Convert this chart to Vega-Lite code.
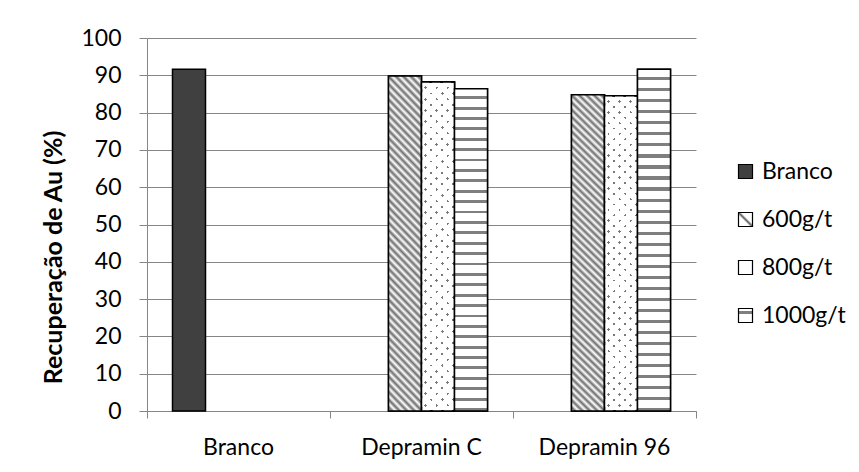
{
  "$schema": "https://vega.github.io/schema/vega-lite/v6.json",
  "width": 549,
  "height": 373,
  "autosize": {"type": "none"},
  "padding": {"left": 147, "top": 38, "right": 163, "bottom": 61},
  "background": "#ffffff",
  "config": {"view": {"stroke": null}, "font": "Lato"},
  "data": {
    "values": [
      {"category": "Branco", "series": "Branco", "value": 91.6},
      {"category": "Depramin C", "series": "600g/t", "value": 89.8},
      {"category": "Depramin C", "series": "800g/t", "value": 88.2},
      {"category": "Depramin C", "series": "1000g/t", "value": 86.4},
      {"category": "Depramin 96", "series": "600g/t", "value": 84.8},
      {"category": "Depramin 96", "series": "800g/t", "value": 84.5},
      {"category": "Depramin 96", "series": "1000g/t", "value": 91.6}
    ]
  },
  "encoding": {
    "x": {
      "field": "category", "type": "nominal",
      "sort": ["Branco", "Depramin C", "Depramin 96"],
      "scale": {"paddingInner": 0, "paddingOuter": 0},
      "axis": {
        "title": null, "labelAngle": 0, "bandPosition": 1, "tickExtra": true,
        "domainColor": "#868686", "domainWidth": 1, "tickColor": "#868686", "tickWidth": 1, "tickSize": 7,
        "labelFont": "Lato", "labelFontSize": 23, "labelColor": "#000000", "labelPadding": 18, "grid": false
      }
    },
    "xOffset": {
      "field": "series", "type": "nominal",
      "scale": {"domain": ["Branco", "600g/t", "800g/t", "1000g/t"], "paddingInner": 0, "paddingOuter": 0.7727}
    },
    "y": {
      "field": "value", "type": "quantitative", "stack": null,
      "scale": {"domain": [0, 100]},
      "axis": {
        "values": [0, 10, 20, 30, 40, 50, 60, 70, 80, 90, 100],
        "grid": true, "gridColor": "#868686", "gridWidth": 1,
        "domainColor": "#868686", "domainWidth": 1, "tickColor": "#868686", "tickWidth": 1, "tickSize": 8,
        "labelFont": "Lato", "labelFontSize": 23, "labelColor": "#000000", "labelPadding": 18,
        "title": "Recuperação de Au (%)", "titleFont": "Lato", "titleFontSize": 25, "titleFontWeight": "bold",
        "titleColor": "#000000", "titlePadding": 14, "titleY": 219
      }
    }
  },
  "layer": [
    {
      "mark": {"type": "bar", "stroke": "#000000", "strokeWidth": 1.5},
      "encoding": {
        "color": {
          "field": "series", "type": "nominal",
          "scale": {
            "domain": ["Branco", "600g/t", "800g/t", "1000g/t"],
            "range": [
              "#404040",
              {"expr": "{gradient: 'linear', x1: 0, y1: 1, x2: 1, y2: 0, stops: [{offset: 0, color: '#ffffff'}, {offset: 0.4, color: '#ffffff'}, {offset: 0.5, color: '#606060'}, {offset: 0.6, color: '#ffffff'}, {offset: 1, color: '#ffffff'}]}"},
              "#ffffff",
              {"expr": "{gradient: 'linear', x1: 0, y1: 0, x2: 0, y2: 1, stops: [{offset: 0, color: '#ffffff'}, {offset: 0.18, color: '#ffffff'}, {offset: 0.18, color: '#7f7f7f'}, {offset: 0.38, color: '#7f7f7f'}, {offset: 0.38, color: '#ffffff'}, {offset: 1, color: '#ffffff'}]}"}
            ]
          },
          "legend": {
            "title": null, "orient": "none", "legendX": 587, "legendY": 122, "padding": 0,
            "symbolType": "square", "symbolSize": 196, "symbolStrokeColor": "#000000", "symbolStrokeWidth": 1.2,
            "labelFont": "Lato", "labelFontSize": 23, "labelColor": "#000000", "labelOffset": 5, "rowPadding": 24
          }
        }
      }
    },
    {
      "transform": [{"filter": "datum.series === '600g/t'"}],
      "mark": {
        "type": "bar", "stroke": "#000000", "strokeWidth": 1.5,
        "fill": {
          "gradient": "linear", "x1": 0, "y1": 1, "x2": 0.111, "y2": -0.091,
          "stops": [
            {"offset": 0, "color": "#ffffff"}, {"offset": 0.0104, "color": "#6e6e6e"}, {"offset": 0.0208, "color": "#ffffff"}, {"offset": 0.0313, "color": "#6e6e6e"},
            {"offset": 0.0417, "color": "#ffffff"}, {"offset": 0.0521, "color": "#6e6e6e"}, {"offset": 0.0625, "color": "#ffffff"}, {"offset": 0.0729, "color": "#6e6e6e"},
            {"offset": 0.0833, "color": "#ffffff"}, {"offset": 0.0938, "color": "#6e6e6e"}, {"offset": 0.1042, "color": "#ffffff"}, {"offset": 0.1146, "color": "#6e6e6e"},
            {"offset": 0.125, "color": "#ffffff"}, {"offset": 0.1354, "color": "#6e6e6e"}, {"offset": 0.1458, "color": "#ffffff"}, {"offset": 0.1563, "color": "#6e6e6e"},
            {"offset": 0.1667, "color": "#ffffff"}, {"offset": 0.1771, "color": "#6e6e6e"}, {"offset": 0.1875, "color": "#ffffff"}, {"offset": 0.1979, "color": "#6e6e6e"},
            {"offset": 0.2083, "color": "#ffffff"}, {"offset": 0.2188, "color": "#6e6e6e"}, {"offset": 0.2292, "color": "#ffffff"}, {"offset": 0.2396, "color": "#6e6e6e"},
            {"offset": 0.25, "color": "#ffffff"}, {"offset": 0.2604, "color": "#6e6e6e"}, {"offset": 0.2708, "color": "#ffffff"}, {"offset": 0.2813, "color": "#6e6e6e"},
            {"offset": 0.2917, "color": "#ffffff"}, {"offset": 0.3021, "color": "#6e6e6e"}, {"offset": 0.3125, "color": "#ffffff"}, {"offset": 0.3229, "color": "#6e6e6e"},
            {"offset": 0.3333, "color": "#ffffff"}, {"offset": 0.3438, "color": "#6e6e6e"}, {"offset": 0.3542, "color": "#ffffff"}, {"offset": 0.3646, "color": "#6e6e6e"},
            {"offset": 0.375, "color": "#ffffff"}, {"offset": 0.3854, "color": "#6e6e6e"}, {"offset": 0.3958, "color": "#ffffff"}, {"offset": 0.4063, "color": "#6e6e6e"},
            {"offset": 0.4167, "color": "#ffffff"}, {"offset": 0.4271, "color": "#6e6e6e"}, {"offset": 0.4375, "color": "#ffffff"}, {"offset": 0.4479, "color": "#6e6e6e"},
            {"offset": 0.4583, "color": "#ffffff"}, {"offset": 0.4688, "color": "#6e6e6e"}, {"offset": 0.4792, "color": "#ffffff"}, {"offset": 0.4896, "color": "#6e6e6e"},
            {"offset": 0.5, "color": "#ffffff"}, {"offset": 0.5104, "color": "#6e6e6e"}, {"offset": 0.5208, "color": "#ffffff"}, {"offset": 0.5313, "color": "#6e6e6e"},
            {"offset": 0.5417, "color": "#ffffff"}, {"offset": 0.5521, "color": "#6e6e6e"}, {"offset": 0.5625, "color": "#ffffff"}, {"offset": 0.5729, "color": "#6e6e6e"},
            {"offset": 0.5833, "color": "#ffffff"}, {"offset": 0.5938, "color": "#6e6e6e"}, {"offset": 0.6042, "color": "#ffffff"}, {"offset": 0.6146, "color": "#6e6e6e"},
            {"offset": 0.625, "color": "#ffffff"}, {"offset": 0.6354, "color": "#6e6e6e"}, {"offset": 0.6458, "color": "#ffffff"}, {"offset": 0.6563, "color": "#6e6e6e"},
            {"offset": 0.6667, "color": "#ffffff"}, {"offset": 0.6771, "color": "#6e6e6e"}, {"offset": 0.6875, "color": "#ffffff"}, {"offset": 0.6979, "color": "#6e6e6e"},
            {"offset": 0.7083, "color": "#ffffff"}, {"offset": 0.7188, "color": "#6e6e6e"}, {"offset": 0.7292, "color": "#ffffff"}, {"offset": 0.7396, "color": "#6e6e6e"},
            {"offset": 0.75, "color": "#ffffff"}, {"offset": 0.7604, "color": "#6e6e6e"}, {"offset": 0.7708, "color": "#ffffff"}, {"offset": 0.7813, "color": "#6e6e6e"},
            {"offset": 0.7917, "color": "#ffffff"}, {"offset": 0.8021, "color": "#6e6e6e"}, {"offset": 0.8125, "color": "#ffffff"}, {"offset": 0.8229, "color": "#6e6e6e"},
            {"offset": 0.8333, "color": "#ffffff"}, {"offset": 0.8438, "color": "#6e6e6e"}, {"offset": 0.8542, "color": "#ffffff"}, {"offset": 0.8646, "color": "#6e6e6e"},
            {"offset": 0.875, "color": "#ffffff"}, {"offset": 0.8854, "color": "#6e6e6e"}, {"offset": 0.8958, "color": "#ffffff"}, {"offset": 0.9063, "color": "#6e6e6e"},
            {"offset": 0.9167, "color": "#ffffff"}, {"offset": 0.9271, "color": "#6e6e6e"}, {"offset": 0.9375, "color": "#ffffff"}, {"offset": 0.9479, "color": "#6e6e6e"},
            {"offset": 0.9583, "color": "#ffffff"}, {"offset": 0.9688, "color": "#6e6e6e"}, {"offset": 0.9792, "color": "#ffffff"}, {"offset": 0.9896, "color": "#6e6e6e"},
            {"offset": 1, "color": "#ffffff"}
          ]
        }
      }
    },
    {
      "transform": [{"filter": "datum.series === '800g/t'"}],
      "mark": {
        "type": "bar", "stroke": "#000000", "strokeWidth": 1.5,
        "fill": {
          "gradient": "linear", "x1": 0, "y1": 1, "x2": 0.112, "y2": -0.091,
          "stops": [
            {"offset": 0, "color": "#ffffff"}, {"offset": 0.0234, "color": "#ffffff"}, {"offset": 0.0234, "color": "#7a7a7a"}, {"offset": 0.0313, "color": "#7a7a7a"},
            {"offset": 0.0313, "color": "#ffffff"}, {"offset": 0.0547, "color": "#ffffff"}, {"offset": 0.0547, "color": "#7a7a7a"}, {"offset": 0.0625, "color": "#7a7a7a"},
            {"offset": 0.0625, "color": "#ffffff"}, {"offset": 0.0859, "color": "#ffffff"}, {"offset": 0.0859, "color": "#7a7a7a"}, {"offset": 0.0938, "color": "#7a7a7a"},
            {"offset": 0.0938, "color": "#ffffff"}, {"offset": 0.1172, "color": "#ffffff"}, {"offset": 0.1172, "color": "#7a7a7a"}, {"offset": 0.125, "color": "#7a7a7a"},
            {"offset": 0.125, "color": "#ffffff"}, {"offset": 0.1484, "color": "#ffffff"}, {"offset": 0.1484, "color": "#7a7a7a"}, {"offset": 0.1563, "color": "#7a7a7a"},
            {"offset": 0.1563, "color": "#ffffff"}, {"offset": 0.1797, "color": "#ffffff"}, {"offset": 0.1797, "color": "#7a7a7a"}, {"offset": 0.1875, "color": "#7a7a7a"},
            {"offset": 0.1875, "color": "#ffffff"}, {"offset": 0.2109, "color": "#ffffff"}, {"offset": 0.2109, "color": "#7a7a7a"}, {"offset": 0.2188, "color": "#7a7a7a"},
            {"offset": 0.2188, "color": "#ffffff"}, {"offset": 0.2422, "color": "#ffffff"}, {"offset": 0.2422, "color": "#7a7a7a"}, {"offset": 0.25, "color": "#7a7a7a"},
            {"offset": 0.25, "color": "#ffffff"}, {"offset": 0.2734, "color": "#ffffff"}, {"offset": 0.2734, "color": "#7a7a7a"}, {"offset": 0.2813, "color": "#7a7a7a"},
            {"offset": 0.2813, "color": "#ffffff"}, {"offset": 0.3047, "color": "#ffffff"}, {"offset": 0.3047, "color": "#7a7a7a"}, {"offset": 0.3125, "color": "#7a7a7a"},
            {"offset": 0.3125, "color": "#ffffff"}, {"offset": 0.3359, "color": "#ffffff"}, {"offset": 0.3359, "color": "#7a7a7a"}, {"offset": 0.3438, "color": "#7a7a7a"},
            {"offset": 0.3438, "color": "#ffffff"}, {"offset": 0.3672, "color": "#ffffff"}, {"offset": 0.3672, "color": "#7a7a7a"}, {"offset": 0.375, "color": "#7a7a7a"},
            {"offset": 0.375, "color": "#ffffff"}, {"offset": 0.3984, "color": "#ffffff"}, {"offset": 0.3984, "color": "#7a7a7a"}, {"offset": 0.4063, "color": "#7a7a7a"},
            {"offset": 0.4063, "color": "#ffffff"}, {"offset": 0.4297, "color": "#ffffff"}, {"offset": 0.4297, "color": "#7a7a7a"}, {"offset": 0.4375, "color": "#7a7a7a"},
            {"offset": 0.4375, "color": "#ffffff"}, {"offset": 0.4609, "color": "#ffffff"}, {"offset": 0.4609, "color": "#7a7a7a"}, {"offset": 0.4688, "color": "#7a7a7a"},
            {"offset": 0.4688, "color": "#ffffff"}, {"offset": 0.4922, "color": "#ffffff"}, {"offset": 0.4922, "color": "#7a7a7a"}, {"offset": 0.5, "color": "#7a7a7a"},
            {"offset": 0.5, "color": "#ffffff"}, {"offset": 0.5234, "color": "#ffffff"}, {"offset": 0.5234, "color": "#7a7a7a"}, {"offset": 0.5313, "color": "#7a7a7a"},
            {"offset": 0.5313, "color": "#ffffff"}, {"offset": 0.5547, "color": "#ffffff"}, {"offset": 0.5547, "color": "#7a7a7a"}, {"offset": 0.5625, "color": "#7a7a7a"},
            {"offset": 0.5625, "color": "#ffffff"}, {"offset": 0.5859, "color": "#ffffff"}, {"offset": 0.5859, "color": "#7a7a7a"}, {"offset": 0.5938, "color": "#7a7a7a"},
            {"offset": 0.5938, "color": "#ffffff"}, {"offset": 0.6172, "color": "#ffffff"}, {"offset": 0.6172, "color": "#7a7a7a"}, {"offset": 0.625, "color": "#7a7a7a"},
            {"offset": 0.625, "color": "#ffffff"}, {"offset": 0.6484, "color": "#ffffff"}, {"offset": 0.6484, "color": "#7a7a7a"}, {"offset": 0.6563, "color": "#7a7a7a"},
            {"offset": 0.6563, "color": "#ffffff"}, {"offset": 0.6797, "color": "#ffffff"}, {"offset": 0.6797, "color": "#7a7a7a"}, {"offset": 0.6875, "color": "#7a7a7a"},
            {"offset": 0.6875, "color": "#ffffff"}, {"offset": 0.7109, "color": "#ffffff"}, {"offset": 0.7109, "color": "#7a7a7a"}, {"offset": 0.7188, "color": "#7a7a7a"},
            {"offset": 0.7188, "color": "#ffffff"}, {"offset": 0.7422, "color": "#ffffff"}, {"offset": 0.7422, "color": "#7a7a7a"}, {"offset": 0.75, "color": "#7a7a7a"},
            {"offset": 0.75, "color": "#ffffff"}, {"offset": 0.7734, "color": "#ffffff"}, {"offset": 0.7734, "color": "#7a7a7a"}, {"offset": 0.7813, "color": "#7a7a7a"},
            {"offset": 0.7813, "color": "#ffffff"}, {"offset": 0.8047, "color": "#ffffff"}, {"offset": 0.8047, "color": "#7a7a7a"}, {"offset": 0.8125, "color": "#7a7a7a"},
            {"offset": 0.8125, "color": "#ffffff"}, {"offset": 0.8359, "color": "#ffffff"}, {"offset": 0.8359, "color": "#7a7a7a"}, {"offset": 0.8438, "color": "#7a7a7a"},
            {"offset": 0.8438, "color": "#ffffff"}, {"offset": 0.8672, "color": "#ffffff"}, {"offset": 0.8672, "color": "#7a7a7a"}, {"offset": 0.875, "color": "#7a7a7a"},
            {"offset": 0.875, "color": "#ffffff"}, {"offset": 0.8984, "color": "#ffffff"}, {"offset": 0.8984, "color": "#7a7a7a"}, {"offset": 0.9063, "color": "#7a7a7a"},
            {"offset": 0.9063, "color": "#ffffff"}, {"offset": 0.9297, "color": "#ffffff"}, {"offset": 0.9297, "color": "#7a7a7a"}, {"offset": 0.9375, "color": "#7a7a7a"},
            {"offset": 0.9375, "color": "#ffffff"}, {"offset": 0.9609, "color": "#ffffff"}, {"offset": 0.9609, "color": "#7a7a7a"}, {"offset": 0.9688, "color": "#7a7a7a"},
            {"offset": 0.9688, "color": "#ffffff"}, {"offset": 0.9922, "color": "#ffffff"}, {"offset": 0.9922, "color": "#7a7a7a"}, {"offset": 1, "color": "#7a7a7a"}
          ]
        }
      }
    },
    {
      "transform": [{"filter": "datum.series === '800g/t'"}],
      "mark": {
        "type": "bar", "stroke": "#000000", "strokeWidth": 1.5,
        "fill": {
          "gradient": "linear", "x1": 0, "y1": 0, "x2": 0.112, "y2": 1.091,
          "stops": [
            {"offset": 0, "color": "#ffffff"}, {"offset": 0.0234, "color": "#ffffff"}, {"offset": 0.0234, "color": "rgba(255,255,255,0)"}, {"offset": 0.0313, "color": "rgba(255,255,255,0)"},
            {"offset": 0.0313, "color": "#ffffff"}, {"offset": 0.0547, "color": "#ffffff"}, {"offset": 0.0547, "color": "rgba(255,255,255,0)"}, {"offset": 0.0625, "color": "rgba(255,255,255,0)"},
            {"offset": 0.0625, "color": "#ffffff"}, {"offset": 0.0859, "color": "#ffffff"}, {"offset": 0.0859, "color": "rgba(255,255,255,0)"}, {"offset": 0.0938, "color": "rgba(255,255,255,0)"},
            {"offset": 0.0938, "color": "#ffffff"}, {"offset": 0.1172, "color": "#ffffff"}, {"offset": 0.1172, "color": "rgba(255,255,255,0)"}, {"offset": 0.125, "color": "rgba(255,255,255,0)"},
            {"offset": 0.125, "color": "#ffffff"}, {"offset": 0.1484, "color": "#ffffff"}, {"offset": 0.1484, "color": "rgba(255,255,255,0)"}, {"offset": 0.1563, "color": "rgba(255,255,255,0)"},
            {"offset": 0.1563, "color": "#ffffff"}, {"offset": 0.1797, "color": "#ffffff"}, {"offset": 0.1797, "color": "rgba(255,255,255,0)"}, {"offset": 0.1875, "color": "rgba(255,255,255,0)"},
            {"offset": 0.1875, "color": "#ffffff"}, {"offset": 0.2109, "color": "#ffffff"}, {"offset": 0.2109, "color": "rgba(255,255,255,0)"}, {"offset": 0.2188, "color": "rgba(255,255,255,0)"},
            {"offset": 0.2188, "color": "#ffffff"}, {"offset": 0.2422, "color": "#ffffff"}, {"offset": 0.2422, "color": "rgba(255,255,255,0)"}, {"offset": 0.25, "color": "rgba(255,255,255,0)"},
            {"offset": 0.25, "color": "#ffffff"}, {"offset": 0.2734, "color": "#ffffff"}, {"offset": 0.2734, "color": "rgba(255,255,255,0)"}, {"offset": 0.2813, "color": "rgba(255,255,255,0)"},
            {"offset": 0.2813, "color": "#ffffff"}, {"offset": 0.3047, "color": "#ffffff"}, {"offset": 0.3047, "color": "rgba(255,255,255,0)"}, {"offset": 0.3125, "color": "rgba(255,255,255,0)"},
            {"offset": 0.3125, "color": "#ffffff"}, {"offset": 0.3359, "color": "#ffffff"}, {"offset": 0.3359, "color": "rgba(255,255,255,0)"}, {"offset": 0.3438, "color": "rgba(255,255,255,0)"},
            {"offset": 0.3438, "color": "#ffffff"}, {"offset": 0.3672, "color": "#ffffff"}, {"offset": 0.3672, "color": "rgba(255,255,255,0)"}, {"offset": 0.375, "color": "rgba(255,255,255,0)"},
            {"offset": 0.375, "color": "#ffffff"}, {"offset": 0.3984, "color": "#ffffff"}, {"offset": 0.3984, "color": "rgba(255,255,255,0)"}, {"offset": 0.4063, "color": "rgba(255,255,255,0)"},
            {"offset": 0.4063, "color": "#ffffff"}, {"offset": 0.4297, "color": "#ffffff"}, {"offset": 0.4297, "color": "rgba(255,255,255,0)"}, {"offset": 0.4375, "color": "rgba(255,255,255,0)"},
            {"offset": 0.4375, "color": "#ffffff"}, {"offset": 0.4609, "color": "#ffffff"}, {"offset": 0.4609, "color": "rgba(255,255,255,0)"}, {"offset": 0.4688, "color": "rgba(255,255,255,0)"},
            {"offset": 0.4688, "color": "#ffffff"}, {"offset": 0.4922, "color": "#ffffff"}, {"offset": 0.4922, "color": "rgba(255,255,255,0)"}, {"offset": 0.5, "color": "rgba(255,255,255,0)"},
            {"offset": 0.5, "color": "#ffffff"}, {"offset": 0.5234, "color": "#ffffff"}, {"offset": 0.5234, "color": "rgba(255,255,255,0)"}, {"offset": 0.5313, "color": "rgba(255,255,255,0)"},
            {"offset": 0.5313, "color": "#ffffff"}, {"offset": 0.5547, "color": "#ffffff"}, {"offset": 0.5547, "color": "rgba(255,255,255,0)"}, {"offset": 0.5625, "color": "rgba(255,255,255,0)"},
            {"offset": 0.5625, "color": "#ffffff"}, {"offset": 0.5859, "color": "#ffffff"}, {"offset": 0.5859, "color": "rgba(255,255,255,0)"}, {"offset": 0.5938, "color": "rgba(255,255,255,0)"},
            {"offset": 0.5938, "color": "#ffffff"}, {"offset": 0.6172, "color": "#ffffff"}, {"offset": 0.6172, "color": "rgba(255,255,255,0)"}, {"offset": 0.625, "color": "rgba(255,255,255,0)"},
            {"offset": 0.625, "color": "#ffffff"}, {"offset": 0.6484, "color": "#ffffff"}, {"offset": 0.6484, "color": "rgba(255,255,255,0)"}, {"offset": 0.6563, "color": "rgba(255,255,255,0)"},
            {"offset": 0.6563, "color": "#ffffff"}, {"offset": 0.6797, "color": "#ffffff"}, {"offset": 0.6797, "color": "rgba(255,255,255,0)"}, {"offset": 0.6875, "color": "rgba(255,255,255,0)"},
            {"offset": 0.6875, "color": "#ffffff"}, {"offset": 0.7109, "color": "#ffffff"}, {"offset": 0.7109, "color": "rgba(255,255,255,0)"}, {"offset": 0.7188, "color": "rgba(255,255,255,0)"},
            {"offset": 0.7188, "color": "#ffffff"}, {"offset": 0.7422, "color": "#ffffff"}, {"offset": 0.7422, "color": "rgba(255,255,255,0)"}, {"offset": 0.75, "color": "rgba(255,255,255,0)"},
            {"offset": 0.75, "color": "#ffffff"}, {"offset": 0.7734, "color": "#ffffff"}, {"offset": 0.7734, "color": "rgba(255,255,255,0)"}, {"offset": 0.7813, "color": "rgba(255,255,255,0)"},
            {"offset": 0.7813, "color": "#ffffff"}, {"offset": 0.8047, "color": "#ffffff"}, {"offset": 0.8047, "color": "rgba(255,255,255,0)"}, {"offset": 0.8125, "color": "rgba(255,255,255,0)"},
            {"offset": 0.8125, "color": "#ffffff"}, {"offset": 0.8359, "color": "#ffffff"}, {"offset": 0.8359, "color": "rgba(255,255,255,0)"}, {"offset": 0.8438, "color": "rgba(255,255,255,0)"},
            {"offset": 0.8438, "color": "#ffffff"}, {"offset": 0.8672, "color": "#ffffff"}, {"offset": 0.8672, "color": "rgba(255,255,255,0)"}, {"offset": 0.875, "color": "rgba(255,255,255,0)"},
            {"offset": 0.875, "color": "#ffffff"}, {"offset": 0.8984, "color": "#ffffff"}, {"offset": 0.8984, "color": "rgba(255,255,255,0)"}, {"offset": 0.9063, "color": "rgba(255,255,255,0)"},
            {"offset": 0.9063, "color": "#ffffff"}, {"offset": 0.9297, "color": "#ffffff"}, {"offset": 0.9297, "color": "rgba(255,255,255,0)"}, {"offset": 0.9375, "color": "rgba(255,255,255,0)"},
            {"offset": 0.9375, "color": "#ffffff"}, {"offset": 0.9609, "color": "#ffffff"}, {"offset": 0.9609, "color": "rgba(255,255,255,0)"}, {"offset": 0.9688, "color": "rgba(255,255,255,0)"},
            {"offset": 0.9688, "color": "#ffffff"}, {"offset": 0.9922, "color": "#ffffff"}, {"offset": 0.9922, "color": "rgba(255,255,255,0)"}, {"offset": 1, "color": "rgba(255,255,255,0)"}
          ]
        }
      }
    },
    {
      "transform": [{"filter": "datum.series === '1000g/t'"}],
      "mark": {
        "type": "bar", "stroke": "#000000", "strokeWidth": 1.5,
        "fill": {
          "gradient": "linear", "x1": 0, "y1": 0, "x2": 0, "y2": 1,
          "stops": [
            {"offset": 0, "color": "#ffffff"}, {"offset": 0.0232, "color": "#ffffff"}, {"offset": 0.0232, "color": "#7f7f7f"}, {"offset": 0.0323, "color": "#7f7f7f"},
            {"offset": 0.0323, "color": "#ffffff"}, {"offset": 0.0555, "color": "#ffffff"}, {"offset": 0.0555, "color": "#7f7f7f"}, {"offset": 0.0645, "color": "#7f7f7f"},
            {"offset": 0.0645, "color": "#ffffff"}, {"offset": 0.0877, "color": "#ffffff"}, {"offset": 0.0877, "color": "#7f7f7f"}, {"offset": 0.0968, "color": "#7f7f7f"},
            {"offset": 0.0968, "color": "#ffffff"}, {"offset": 0.12, "color": "#ffffff"}, {"offset": 0.12, "color": "#7f7f7f"}, {"offset": 0.129, "color": "#7f7f7f"},
            {"offset": 0.129, "color": "#ffffff"}, {"offset": 0.1522, "color": "#ffffff"}, {"offset": 0.1522, "color": "#7f7f7f"}, {"offset": 0.1613, "color": "#7f7f7f"},
            {"offset": 0.1613, "color": "#ffffff"}, {"offset": 0.1845, "color": "#ffffff"}, {"offset": 0.1845, "color": "#7f7f7f"}, {"offset": 0.1935, "color": "#7f7f7f"},
            {"offset": 0.1935, "color": "#ffffff"}, {"offset": 0.2168, "color": "#ffffff"}, {"offset": 0.2168, "color": "#7f7f7f"}, {"offset": 0.2258, "color": "#7f7f7f"},
            {"offset": 0.2258, "color": "#ffffff"}, {"offset": 0.249, "color": "#ffffff"}, {"offset": 0.249, "color": "#7f7f7f"}, {"offset": 0.2581, "color": "#7f7f7f"},
            {"offset": 0.2581, "color": "#ffffff"}, {"offset": 0.2813, "color": "#ffffff"}, {"offset": 0.2813, "color": "#7f7f7f"}, {"offset": 0.2903, "color": "#7f7f7f"},
            {"offset": 0.2903, "color": "#ffffff"}, {"offset": 0.3135, "color": "#ffffff"}, {"offset": 0.3135, "color": "#7f7f7f"}, {"offset": 0.3226, "color": "#7f7f7f"},
            {"offset": 0.3226, "color": "#ffffff"}, {"offset": 0.3458, "color": "#ffffff"}, {"offset": 0.3458, "color": "#7f7f7f"}, {"offset": 0.3548, "color": "#7f7f7f"},
            {"offset": 0.3548, "color": "#ffffff"}, {"offset": 0.3781, "color": "#ffffff"}, {"offset": 0.3781, "color": "#7f7f7f"}, {"offset": 0.3871, "color": "#7f7f7f"},
            {"offset": 0.3871, "color": "#ffffff"}, {"offset": 0.4103, "color": "#ffffff"}, {"offset": 0.4103, "color": "#7f7f7f"}, {"offset": 0.4194, "color": "#7f7f7f"},
            {"offset": 0.4194, "color": "#ffffff"}, {"offset": 0.4426, "color": "#ffffff"}, {"offset": 0.4426, "color": "#7f7f7f"}, {"offset": 0.4516, "color": "#7f7f7f"},
            {"offset": 0.4516, "color": "#ffffff"}, {"offset": 0.4748, "color": "#ffffff"}, {"offset": 0.4748, "color": "#7f7f7f"}, {"offset": 0.4839, "color": "#7f7f7f"},
            {"offset": 0.4839, "color": "#ffffff"}, {"offset": 0.5071, "color": "#ffffff"}, {"offset": 0.5071, "color": "#7f7f7f"}, {"offset": 0.5161, "color": "#7f7f7f"},
            {"offset": 0.5161, "color": "#ffffff"}, {"offset": 0.5394, "color": "#ffffff"}, {"offset": 0.5394, "color": "#7f7f7f"}, {"offset": 0.5484, "color": "#7f7f7f"},
            {"offset": 0.5484, "color": "#ffffff"}, {"offset": 0.5716, "color": "#ffffff"}, {"offset": 0.5716, "color": "#7f7f7f"}, {"offset": 0.5806, "color": "#7f7f7f"},
            {"offset": 0.5806, "color": "#ffffff"}, {"offset": 0.6039, "color": "#ffffff"}, {"offset": 0.6039, "color": "#7f7f7f"}, {"offset": 0.6129, "color": "#7f7f7f"},
            {"offset": 0.6129, "color": "#ffffff"}, {"offset": 0.6361, "color": "#ffffff"}, {"offset": 0.6361, "color": "#7f7f7f"}, {"offset": 0.6452, "color": "#7f7f7f"},
            {"offset": 0.6452, "color": "#ffffff"}, {"offset": 0.6684, "color": "#ffffff"}, {"offset": 0.6684, "color": "#7f7f7f"}, {"offset": 0.6774, "color": "#7f7f7f"},
            {"offset": 0.6774, "color": "#ffffff"}, {"offset": 0.7006, "color": "#ffffff"}, {"offset": 0.7006, "color": "#7f7f7f"}, {"offset": 0.7097, "color": "#7f7f7f"},
            {"offset": 0.7097, "color": "#ffffff"}, {"offset": 0.7329, "color": "#ffffff"}, {"offset": 0.7329, "color": "#7f7f7f"}, {"offset": 0.7419, "color": "#7f7f7f"},
            {"offset": 0.7419, "color": "#ffffff"}, {"offset": 0.7652, "color": "#ffffff"}, {"offset": 0.7652, "color": "#7f7f7f"}, {"offset": 0.7742, "color": "#7f7f7f"},
            {"offset": 0.7742, "color": "#ffffff"}, {"offset": 0.7974, "color": "#ffffff"}, {"offset": 0.7974, "color": "#7f7f7f"}, {"offset": 0.8065, "color": "#7f7f7f"},
            {"offset": 0.8065, "color": "#ffffff"}, {"offset": 0.8297, "color": "#ffffff"}, {"offset": 0.8297, "color": "#7f7f7f"}, {"offset": 0.8387, "color": "#7f7f7f"},
            {"offset": 0.8387, "color": "#ffffff"}, {"offset": 0.8619, "color": "#ffffff"}, {"offset": 0.8619, "color": "#7f7f7f"}, {"offset": 0.871, "color": "#7f7f7f"},
            {"offset": 0.871, "color": "#ffffff"}, {"offset": 0.8942, "color": "#ffffff"}, {"offset": 0.8942, "color": "#7f7f7f"}, {"offset": 0.9032, "color": "#7f7f7f"},
            {"offset": 0.9032, "color": "#ffffff"}, {"offset": 0.9265, "color": "#ffffff"}, {"offset": 0.9265, "color": "#7f7f7f"}, {"offset": 0.9355, "color": "#7f7f7f"},
            {"offset": 0.9355, "color": "#ffffff"}, {"offset": 0.9587, "color": "#ffffff"}, {"offset": 0.9587, "color": "#7f7f7f"}, {"offset": 0.9677, "color": "#7f7f7f"},
            {"offset": 0.9677, "color": "#ffffff"}, {"offset": 0.991, "color": "#ffffff"}, {"offset": 0.991, "color": "#7f7f7f"}, {"offset": 1, "color": "#7f7f7f"}
          ]
        }
      }
    }
  ]
}
